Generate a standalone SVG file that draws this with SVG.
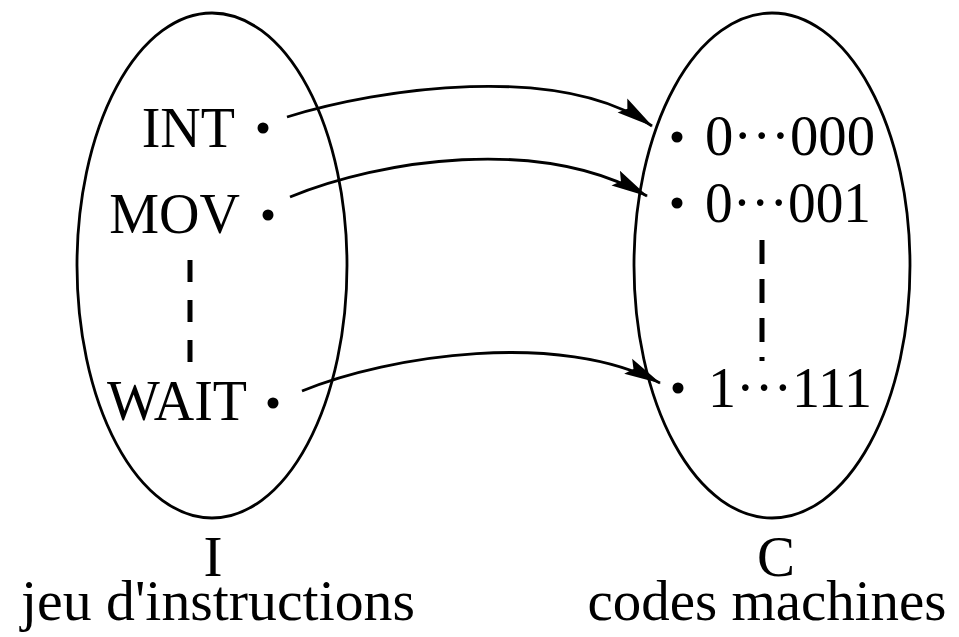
<svg xmlns="http://www.w3.org/2000/svg" width="959" height="637" viewBox="0 0 959 637">
<defs>
<style>
.set{fill:none;stroke:#000;stroke-width:2.8}
.lbl{font-family:"Liberation Serif","Times New Roman",serif;font-size:56px;fill:#000}
.cap{font-family:"Liberation Serif","Times New Roman",serif;font-size:57px;fill:#000}
.dot{fill:#000}
.dash{stroke:#000;stroke-width:5;fill:none}
.arr{fill:none;stroke:#000;stroke-width:2.8;marker-end:url(#ah)}
</style>
<marker id="ah" markerUnits="userSpaceOnUse" markerWidth="42" markerHeight="22" viewBox="-40 -11 42 22" refX="0" refY="0" orient="auto">
<path d="M1,0 L-36,-8.5 L-30,0 L-36,8.5 Z" fill="#000"/>
</marker>
</defs>
<g id="setI">
<ellipse class="set" cx="212" cy="265.5" rx="135" ry="252.5"/>
<line class="dash" x1="190" y1="260" x2="190" y2="362" stroke-dasharray="22 18"/>
<text class="cap" x="213" y="576" text-anchor="middle">I</text>
<text class="cap" x="218" y="620" text-anchor="middle" textLength="394" lengthAdjust="spacingAndGlyphs">jeu d'instructions</text>
</g>
<g id="setC">
<ellipse class="set" cx="772" cy="265.5" rx="138" ry="252.5"/>
<line class="dash" x1="762" y1="240" x2="762" y2="361" stroke-dasharray="24 15"/>
<text class="cap" x="776" y="576" text-anchor="middle">C</text>
<text class="cap" x="767" y="620" text-anchor="middle" textLength="359" lengthAdjust="spacingAndGlyphs">codes machines</text>
</g>
<g id="int">
<text class="lbl" x="235" y="147" text-anchor="end">INT</text>
<circle class="dot" cx="263" cy="128" r="5.5"/>
</g>
<g id="mov">
<text class="lbl" x="240" y="233" text-anchor="end">MOV</text>
<circle class="dot" cx="268" cy="215" r="5.5"/>
</g>
<g id="wait">
<text class="lbl" x="247" y="420" text-anchor="end">WAIT</text>
<circle class="dot" cx="273" cy="403" r="5.5"/>
</g>
<g id="c000">
<circle class="dot" cx="677" cy="137" r="5.5"/>
<text class="lbl" x="705" y="155" textLength="170" lengthAdjust="spacingAndGlyphs">0···000</text>
</g>
<g id="c001">
<circle class="dot" cx="677" cy="203" r="5.5"/>
<text class="lbl" x="705" y="222" textLength="166" lengthAdjust="spacingAndGlyphs">0···001</text>
</g>
<g id="c111">
<circle class="dot" cx="678" cy="388" r="5.5"/>
<text class="lbl" x="708" y="407" textLength="164" lengthAdjust="spacingAndGlyphs">1···111</text>
</g>
<g id="connectors">
<path class="arr" d="M287,117 C380,88 560,62 652,126"/>
<path class="arr" d="M290,197 C380,160 540,135 647,196"/>
<path class="arr" d="M302,391 C390,355 560,330 660,383"/>
</g>
</svg>
